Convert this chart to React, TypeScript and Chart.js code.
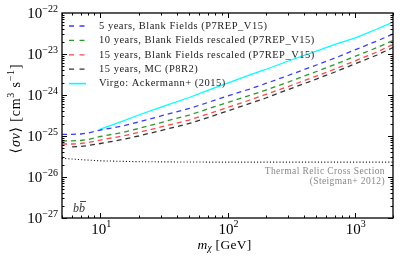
import React, { useEffect, useRef } from "react";
import { Chart, registerables } from "chart.js";

Chart.register(...registerables);

// ---- data ----
const massX = [5, 6, 7, 8, 10, 15, 20, 30, 50, 70, 100, 150, 200, 300, 500, 700, 1000, 1500, 2000];
const blank5yr = [1.09e-25, 1.1e-25, 1.12e-25, 1.18e-25, 1.4e-25, 1.75e-25, 2.19e-25, 3.08e-25, 4.69e-25, 6.56e-25, 9.46e-25, 1.4e-24, 1.91e-24, 2.99e-24, 5.39e-24, 7.98e-24, 1.25e-23, 2.08e-23, 3.08e-23];
const blank10yr = [7.55e-26, 7.64e-26, 7.77e-26, 8.22e-26, 9.73e-26, 1.22e-25, 1.52e-25, 2.13e-25, 3.25e-25, 4.56e-25, 6.56e-25, 9.73e-25, 1.32e-24, 2.07e-24, 3.74e-24, 5.55e-24, 8.69e-24, 1.44e-23, 2.13e-23];
const blank15yr = [6.38e-26, 6.38e-26, 6.56e-26, 6.94e-26, 7.98e-26, 1.0e-25, 1.22e-25, 1.66e-25, 2.45e-25, 3.44e-25, 4.95e-25, 7.55e-25, 1.03e-24, 1.61e-24, 2.9e-24, 4.3e-24, 6.75e-24, 1.12e-23, 1.71e-23];
const mcX = [6, 7, 8, 10, 15, 20, 30, 50, 70, 100, 150, 200, 300, 500, 700, 1000, 1500, 2000];
const mc15yr = [5.46e-26, 5.55e-26, 5.86e-26, 6.56e-26, 8.22e-26, 1.0e-25, 1.36e-25, 2.02e-25, 2.82e-25, 4.07e-25, 6.21e-25, 8.45e-25, 1.36e-24, 2.45e-24, 3.64e-24, 5.7e-24, 9.46e-24, 1.44e-23];
const virgoX = [10, 15, 20, 30, 50, 70, 100, 150, 200, 300, 500, 700, 1000, 1500, 2000];
const virgo = [1.48e-25, 2.32e-25, 3.25e-25, 5.09e-25, 8.69e-25, 1.29e-24, 1.96e-24, 3.08e-24, 4.19e-24, 6.75e-24, 1.18e-23, 1.71e-23, 2.45e-23, 4.07e-23, 6.03e-23];
const thermalX = [5, 7, 10, 20, 50, 100, 300, 1000, 2000];
const thermal = [2.86e-26, 2.65e-26, 2.48e-26, 2.36e-26, 2.32e-26, 2.3e-26, 2.3e-26, 2.3e-26, 2.3e-26];

const legendLabels = [
  "5 years, Blank Fields (P7REP_V15)",
  "10 years, Blank Fields rescaled (P7REP_V15)",
  "15 years, Blank Fields rescaled (P7REP_V15)",
  "15 years, MC (P8R2)",
  "Virgo: Ackermann+ (2015)",
];
const xTickExps = [1, 2, 3];
const yTickExps = [-27, -26, -25, -24, -23, -22];
const thermalText = ["Thermal Relic Cross Section", "(Steigman+ 2012)"];
const channelLabel = "b";

const COLORS = ["#3b3bff", "#2a992a", "#ff4747", "#333333", "#00ffff"];
const SERIF = '"Liberation Serif", "DejaVu Serif", serif';

type Seg = { t: string; size: number; italic?: boolean; dy?: number };

function drawRich(ctx: any, segs: Seg[], x: number, y: number, align: "left" | "center" | "right", spacing = 0) {
  ctx.letterSpacing = spacing + "px";
  const widths = segs.map((s) => {
    ctx.font = `${s.italic ? "italic " : ""}${s.size}px ${SERIF}`;
    return ctx.measureText(s.t).width;
  });
  const total = widths.reduce((a, b) => a + b, 0);
  let cx = align === "left" ? x : align === "center" ? x - total / 2 : x - total;
  ctx.textAlign = "left";
  ctx.textBaseline = "middle";
  segs.forEach((s, i) => {
    ctx.font = `${s.italic ? "italic " : ""}${s.size}px ${SERIF}`;
    ctx.fillText(s.t, cx, y + (s.dy || 0));
    cx += widths[i];
  });
  ctx.letterSpacing = "0px";
}

const decoPlugin = {
  id: "deco",
  afterDraw(chart: any) {
    const { ctx, chartArea: a, scales } = chart;
    const xs = scales.x;
    const ys = scales.y;
    ctx.save();
    ctx.strokeStyle = "#000";
    ctx.lineWidth = 1;
    const line = (x1: number, y1: number, x2: number, y2: number) => {
      ctx.beginPath();
      ctx.moveTo(x1, y1);
      ctx.lineTo(x2, y2);
      ctx.stroke();
    };
    // x ticks
    for (let e = 0; e <= 3; e++) {
      for (let m = 1; m <= 9; m++) {
        const v = m * Math.pow(10, e);
        if (v < xs.min || v > xs.max) continue;
        const px = Math.round(xs.getPixelForValue(v)) + 0.5;
        const len = m === 1 ? 5 : 2.5;
        line(px, a.bottom, px, a.bottom - len);
        line(px, a.top, px, a.top + len);
      }
    }
    // y ticks
    for (let e = -27; e <= -23; e++) {
      for (let m = 1; m <= 9; m++) {
        const v = m * Math.pow(10, e);
        if (v < ys.min * 0.999 || v > ys.max * 1.001) continue;
        const py = Math.round(ys.getPixelForValue(v)) + 0.5;
        const len = m === 1 ? 5 : 2.5;
        line(a.left, py, a.left + len, py);
        line(a.right, py, a.right - len, py);
      }
    }
    // frame
    ctx.lineWidth = 1.3;
    ctx.strokeRect(a.left, a.top, a.right - a.left, a.bottom - a.top);

    ctx.fillStyle = "#000";
    // y tick labels
    yTickExps.forEach((e) => {
      const py = ys.getPixelForValue(Math.pow(10, e));
      drawRich(ctx, [
        { t: "10", size: 15 },
        { t: "\u2212" + Math.abs(e), size: 10, dy: -5 },
      ], a.left - 4, py + 1.5, "right");
    });
    // x tick labels
    xTickExps.forEach((e) => {
      const px = xs.getPixelForValue(Math.pow(10, e));
      drawRich(ctx, [
        { t: "10", size: 15 },
        { t: String(e), size: 10, dy: -6 },
      ], px + 1, a.bottom + 12, "center");
    });
    // x title
    drawRich(ctx, [
      { t: "m", size: 13.5, italic: true },
      { t: "\u03c7", size: 9.5, italic: true, dy: 3 },
      { t: " [GeV]", size: 13.5 },
    ], (a.left + a.right) / 2 - 3, a.bottom + 27, "center", 0.3);
    // y title
    ctx.save();
    ctx.translate(16, (a.top + a.bottom) / 2 - 7);
    ctx.rotate(-Math.PI / 2);
    drawRich(ctx, [
      { t: "\u27e8", size: 14 },
      { t: "\u03c3v", size: 14, italic: true },
      { t: "\u27e9 [cm", size: 14 },
      { t: "3", size: 10, dy: -5 },
      { t: " s", size: 14 },
      { t: "\u22121", size: 10, dy: -5 },
      { t: "]", size: 14 },
    ], 0, 0, "center", 0.8);
    ctx.restore();

    // legend
    const lx0 = a.left + 7;
    const lx1 = a.left + 24;
    legendLabels.forEach((lab, i) => {
      const ly = a.top + 13 + i * 14.4;
      ctx.save();
      ctx.strokeStyle = COLORS[i];
      ctx.lineWidth = i === 4 ? 1.6 : 1.3;
      ctx.setLineDash(i === 4 ? [] : [5, 5.5]);
      line(lx0, ly, lx1, ly);
      ctx.restore();
      ctx.fillStyle = "#222";
      drawRich(ctx, [{ t: lab, size: 10.5 }], a.left + 37, ly, "left", 0.5);
    });

    // thermal annotation
    ctx.fillStyle = "#888";
    drawRich(ctx, [{ t: thermalText[0], size: 9.5 }], a.right - 8, 171.5, "right", 0.4);
    drawRich(ctx, [{ t: thermalText[1], size: 9.5 }], a.right - 8, 181, "right", 0.4);

    // channel label b b-bar
    ctx.fillStyle = "#333";
    ctx.font = `italic 12px ${SERIF}`;
    const bw = ctx.measureText(channelLabel).width;
    const bx = a.left + 11;
    const by = a.bottom - 9;
    drawRich(ctx, [{ t: channelLabel + channelLabel, size: 12, italic: true }], bx, by, "left");
    ctx.strokeStyle = "#333";
    ctx.lineWidth = 0.9;
    line(bx + bw + 1, by - 7.5, bx + 2 * bw + 1, by - 7.5);
    ctx.restore();
  },
};

function pts(xv: number[], yv: number[]) {
  return xv.map((x, i) => ({ x, y: yv[i] }));
}

export default function App() {
  const ref = useRef<HTMLCanvasElement>(null);
  useEffect(() => {
    const dash = [5, 4];
    const chart = new Chart(ref.current!, {
      type: "line",
      data: {
        datasets: [
          { label: legendLabels[0], data: pts(massX, blank5yr), borderColor: COLORS[0], borderDash: dash, borderWidth: 1.3 },
          { label: legendLabels[1], data: pts(massX, blank10yr), borderColor: COLORS[1], borderDash: dash, borderWidth: 1.3 },
          { label: legendLabels[2], data: pts(massX, blank15yr), borderColor: COLORS[2], borderDash: dash, borderWidth: 1.3 },
          { label: legendLabels[3], data: pts(mcX, mc15yr), borderColor: COLORS[3], borderDash: dash, borderWidth: 1.3 },
          { label: legendLabels[4], data: pts(virgoX, virgo), borderColor: COLORS[4], borderWidth: 1.3 },
          { label: "thermal", data: pts(thermalX, thermal), borderColor: "#000", borderDash: [1, 2.2], borderWidth: 1.1 },
        ] as any,
      },
      options: {
        responsive: false,
        animation: false,
        layout: { padding: { left: 62, right: 22, top: 13, bottom: 39 } },
        elements: { point: { radius: 0 }, line: { tension: 0, fill: false } },
        scales: {
          x: { type: "logarithmic", min: 5, max: 2000, display: false },
          y: { type: "logarithmic", min: 1e-27, max: 1e-22, display: false },
        },
        plugins: { legend: { display: false }, tooltip: { enabled: false } },
      },
      plugins: [decoPlugin],
    });
    return () => chart.destroy();
  }, []);
  return (
    <div style={{ position: "fixed", left: 0, top: 0, width: 415, height: 257, background: "#fff" }}>
      <canvas ref={ref} width={415} height={257} style={{ width: 415, height: 257, display: "block" }} />
    </div>
  );
}
